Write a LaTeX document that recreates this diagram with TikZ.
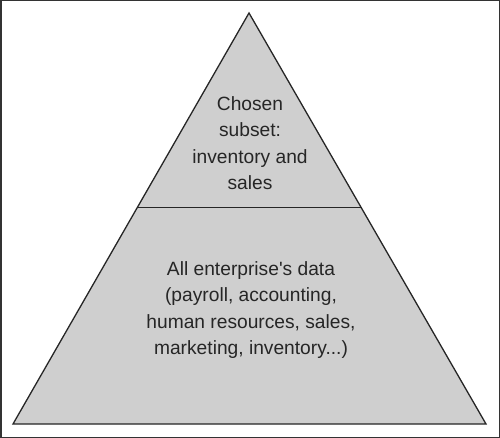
\documentclass[tikz,border=0pt]{standalone}
\usepackage{fontspec}
\newfontfamily\lblfont{Liberation Sans}
\begin{document}
\begin{tikzpicture}[x=1pt,y=-1pt,
  frame/.style={draw=black!80,line width=1.5pt},
  pyr/.style={draw=black!85,line width=1.3pt,fill=black!19,line join=miter},
  divider/.style={draw=black!85,line width=1.3pt},
  lbl/.style={align=center,font=\lblfont\fontsize{19.2}{26.5}\selectfont,text=black!85,inner sep=0pt}]
\useasboundingbox (0,0) rectangle (500,438);
\draw[frame] (0.75,0.75) rectangle (499.25,437.25);
\coordinate (apex) at (249,13);
\coordinate (bl) at (13,424);
\coordinate (br) at (486,424);
\draw[pyr] (apex) -- (bl) -- (br) -- cycle;
\path (apex) -- (bl) coordinate[pos=0.473] (dl);
\path (apex) -- (br) coordinate[pos=0.473] (dr);
\draw[divider] (dl) -- (dr);
\node[lbl] (top) at (250,143) {Chosen\\subset:\\inventory and\\sales};
\node[lbl] (bottom) at (251,310) {All enterprise's data\\(payroll, accounting,\\human resources, sales,\\marketing, inventory...)};
\end{tikzpicture}
\end{document}
